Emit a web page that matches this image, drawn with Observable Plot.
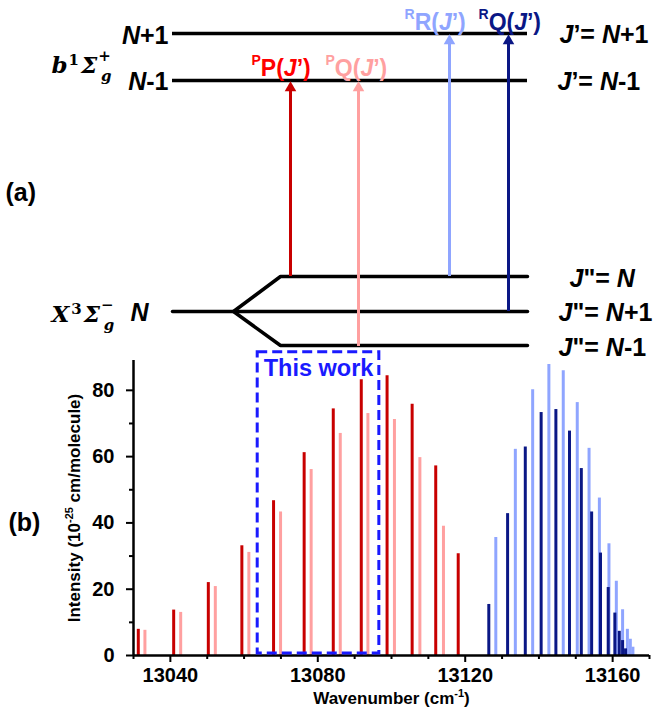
<!DOCTYPE html>
<html><head><meta charset="utf-8">
<script src="https://cdn.jsdelivr.net/npm/d3@7"></script>
<script src="https://cdn.jsdelivr.net/npm/@observablehq/plot@0.6"></script>
<style>
html,body{margin:0;padding:0;background:#fff;}
#wrap{position:relative;width:659px;height:713px;overflow:hidden;}
#wrap svg{position:absolute;left:0;}
</style></head><body><div id="wrap"></div>
<script>
// ---------- Spectrum data (wavenumber cm^-1, intensity 1e-25 cm/molecule) ----------
const ppWn  = [13031.3, 13040.9, 13050.3, 13059.4, 13068.0, 13076.3, 13084.2, 13091.8, 13098.8, 13105.6, 13112.0, 13118.1];
const ppInt = [7.9, 13.7, 22.0, 33.1, 46.7, 61.2, 74.4, 83.2, 84.4, 75.8, 57.2, 30.7];
const pqWn  = [13033.1, 13042.8, 13052.2, 13061.3, 13069.9, 13078.2, 13086.1, 13093.6, 13100.8, 13107.7, 13114.1];
const pqInt = [7.6, 13.0, 20.8, 31.1, 43.3, 56.1, 67.0, 73.0, 71.2, 59.7, 39.0];
const rrWn  = [13128.3, 13133.6, 13138.3, 13142.7, 13146.6, 13150.4, 13153.6, 13156.4, 13159.0, 13161.0, 13162.7, 13164.0, 13164.8, 13165.5];
const rrInt = [35.6, 62.2, 80.2, 87.8, 85.9, 76.3, 62.5, 47.5, 33.7, 22.4, 13.8, 7.9, 4.9, 2.5];
const rqWn  = [13126.4, 13131.5, 13136.3, 13140.6, 13144.6, 13148.3, 13151.5, 13154.3, 13156.7, 13158.8, 13160.6, 13161.8, 13162.7, 13163.5];
const rqInt = [15.4, 42.8, 62.9, 73.3, 74.2, 67.7, 56.4, 43.3, 30.9, 20.5, 12.8, 7.3, 4.5, 2.0];

const xDomain = [13030, 13170];
const yDomain = [0, 89];
const xMajorTicks = [13040, 13080, 13120, 13160];
const xMinorTicks = [13030, 13050, 13060, 13070, 13090, 13100, 13110, 13130, 13140, 13150, 13170];
const yMajorTicks = [0, 20, 40, 60, 80];
const yMinorTicks = [10, 30, 50, 70];
const thisWorkRange = [13063.7, 13096.7];
const thisWorkTop = 90.9;

const colPP = "#c80000", colPPlabel = "#ff0000", colPQ = "#ffa0a0", colRR = "#8fa5ff", colRQ = "#0a1785";
const blueBox = "#1a1aff";
const SANS = "Liberation Sans, Arial, sans-serif";
const SERIF = "DejaVu Serif, serif";
const NB = "\u00A0";

// ---------- rich text helper ----------
const RICH = new Map();
function rich(key, size, segs) { RICH.set(key, {size, segs}); return key; }
function applyRich(svg) {
  const ns = "http://www.w3.org/2000/svg";
  svg.querySelectorAll("text").forEach(el => {
    const spec = RICH.get(el.textContent);
    if (!spec) return;
    while (el.firstChild) el.removeChild(el.firstChild);
    let cur = 0;
    for (const s of spec.segs) {
      const ts = document.createElementNS(ns, "tspan");
      const rise = s.rise || 0;
      const dy = cur - rise;
      if (dy) ts.setAttribute("dy", dy);
      cur = rise;
      if (s.dx) ts.setAttribute("dx", s.dx);
      ts.setAttribute("font-size", s.size || spec.size);
      if (s.i) ts.setAttribute("font-style", "italic");
      ts.textContent = s.t;
      el.appendChild(ts);
    }
  });
}

// ---------- Energy-level diagram (panel a) ----------
const levelX = [172, 527];
const upperLevels = [{name: "N+1", y: 33}, {name: "N-1", y: 80}];
const lowerPaths = [
  {id: "mid", x: 172, y: 311}, {id: "mid", x: 527, y: 311},
  {id: "fork", x: 527, y: 276}, {id: "fork", x: 280, y: 276}, {id: "fork", x: 233, y: 311},
  {id: "fork", x: 280, y: 345}, {id: "fork", x: 527, y: 345}
];
const transitions = [
  {key: rich("PP(J’)", 23, [{t: "P", size: 14, rise: 11}, {t: "P("}, {t: "J", i: 1}, {t: "’)"}]), x: 290, from: 276, to: 80, color: colPP, labelColor: colPPlabel, lx: 251, ly: 75},
  {key: rich("PQ(J’)", 23, [{t: "P", size: 14, rise: 11}, {t: "Q("}, {t: "J", i: 1}, {t: "’)"}]), x: 358, from: 346, to: 80, color: colPQ, labelColor: colPQ, lx: 325, ly: 75},
  {key: rich("RR(J’)", 23, [{t: "R", size: 14, rise: 11}, {t: "R("}, {t: "J", i: 1}, {t: "’)"}]), x: 449, from: 276, to: 33, color: colRR, labelColor: colRR, lx: 404, ly: 29},
  {key: rich("RQ(J’)", 23, [{t: "R", size: 14, rise: 11}, {t: "Q("}, {t: "J", i: 1}, {t: "’)"}]), x: 508, from: 311, to: 33, color: colRQ, labelColor: colRQ, lx: 478, ly: 29}
];
const upperLevelLabels = [
  {key: rich("N+1", 25, [{t: "N", i: 1}, {t: "+1"}]), x: 168, y: 43},
  {key: rich("N-1", 25, [{t: "N", i: 1}, {t: "-1"}]), x: 168, y: 89}
];
const groundLabel = [{key: rich("N", 25, [{t: "N", i: 1}]), x: 130, y: 320}];
const rightLabels = [
  {key: rich("J’= N+1", 25, [{t: "J", i: 1}, {t: "’=" + NB}, {t: "N", i: 1}, {t: "+1"}]), x: 559, y: 42},
  {key: rich("J’= N-1", 25, [{t: "J", i: 1}, {t: "’=" + NB}, {t: "N", i: 1}, {t: "-1"}]), x: 557, y: 89},
  {key: rich("J\"= N", 25, [{t: "J", i: 1}, {t: "\"=" + NB}, {t: "N", i: 1}]), x: 569, y: 286},
  {key: rich("J\"= N+1", 25, [{t: "J", i: 1}, {t: "\"=" + NB}, {t: "N", i: 1}, {t: "+1"}]), x: 558, y: 320},
  {key: rich("J\"= N-1", 25, [{t: "J", i: 1}, {t: "\"=" + NB}, {t: "N", i: 1}, {t: "-1"}]), x: 558, y: 355}
];
const stateLabels = [
  {key: rich("b1Σg+", 23, [{t: "b", i: 1}, {t: "1", size: 15, rise: 8, dx: 1}, {t: "Σ", i: 1, dx: 2}, {t: "+", size: 15, rise: 12, dx: 1}, {t: "g", i: 1, size: 15, rise: -8, dx: -10}]), x: 51, y: 72},
  {key: rich("X3Σg-", 23, [{t: "X", i: 1}, {t: "3", size: 15, rise: 8, dx: 2}, {t: "Σ", i: 1, dx: 2}, {t: "−", size: 15, rise: 12, dx: 1}, {t: "g", i: 1, size: 15, rise: -8, dx: -10}]), x: 51, y: 321}
];
const panelLabels = [{text: "(a)", x: 5, y: 200}, {text: "(b)", x: 8, y: 530}];

const baseStyle = {fontFamily: SANS, background: "transparent", overflow: "visible"};

const diagram = Plot.plot({
  width: 659, height: 713, margin: 0,
  x: {domain: [0, 659], range: [0, 659], axis: null},
  y: {domain: [0, 713], range: [0, 713], axis: null},
  color: {type: "identity"},
  style: baseStyle,
  marks: [
    Plot.ruleY(upperLevels, {y: "y", x1: levelX[0], x2: levelX[1], stroke: "#000", strokeWidth: 3.5}),
    Plot.line(lowerPaths, {x: "x", y: "y", z: "id", stroke: "#000", strokeWidth: 3.5, strokeLinejoin: "miter"}),
    Plot.ruleX(transitions, {x: "x", y1: "from", y2: d => d.to + 8, stroke: "color", strokeWidth: 3}),
    Plot.dot(transitions, {x: "x", y: d => d.to + 7.5, symbol: "triangle", r: 4.3, fill: "color", stroke: null}),
    Plot.text(transitions, {x: "lx", y: "ly", text: "key", fill: "labelColor", textAnchor: "start", lineAnchor: "bottom", fontSize: 23, fontWeight: "bold"}),
    Plot.text(upperLevelLabels, {x: "x", y: "y", text: "key", textAnchor: "end", lineAnchor: "bottom", fontSize: 25, fontWeight: "bold"}),
    Plot.text(groundLabel, {x: "x", y: "y", text: "key", textAnchor: "start", lineAnchor: "bottom", fontSize: 25, fontWeight: "bold"}),
    Plot.text(rightLabels, {x: "x", y: "y", text: "key", textAnchor: "start", lineAnchor: "bottom", fontSize: 25, fontWeight: "bold"}),
    Plot.text(stateLabels, {x: "x", y: "y", text: "key", textAnchor: "start", lineAnchor: "bottom", fontSize: 23, fontWeight: "bold", fontFamily: SERIF}),
    Plot.text(panelLabels, {x: "x", y: "y", text: "text", textAnchor: "start", lineAnchor: "bottom", fontSize: 25, fontWeight: "bold"})
  ]
});
applyRich(diagram);
diagram.style.top = "0px";

// ---------- Spectrum (panel b) ----------
const mk = (wn, v) => wn.map((w, i) => ({wn: w, v: v[i]}));
const ppData = mk(ppWn, ppInt), pqData = mk(pqWn, pqInt), rrData = mk(rrWn, rrInt), rqData = mk(rqWn, rqInt);
const box = [{x1: thisWorkRange[0], x2: thisWorkRange[1], y1: yDomain[0], y2: thisWorkTop, label: "This work"}];
const xLabel = rich("Wavenumber (cm-1)", 17, [{t: "Wavenumber (cm"}, {t: "-1", size: 11, rise: 7}, {t: ")"}]);
const yLabel = rich("Intensity (10-25 cm/molecule)", 17, [{t: "Intensity (10"}, {t: "-25", size: 11, rise: 7}, {t: NB + "cm/molecule)"}]);

const spectrum = Plot.plot({
  width: 659, height: 373, marginTop: 20, marginBottom: 58, marginLeft: 133, marginRight: 10,
  x: {domain: xDomain},
  y: {domain: yDomain},
  style: baseStyle,
  marks: [
    Plot.ruleX(ppData, {x: "wn", y1: 0, y2: "v", stroke: colPP, strokeWidth: 3}),
    Plot.ruleX(pqData, {x: "wn", y1: 0, y2: "v", stroke: colPQ, strokeWidth: 3}),
    Plot.ruleX(rrData, {x: "wn", y1: 0, y2: "v", stroke: colRR, strokeWidth: 3}),
    Plot.ruleX(rqData, {x: "wn", y1: 0, y2: "v", stroke: colRQ, strokeWidth: 3}),
    Plot.ruleY([yDomain[0]], {stroke: "#000", strokeWidth: 2.5}),
    Plot.ruleX([xDomain[0]], {stroke: "#000", strokeWidth: 2.5}),
    Plot.rect(box, {x1: "x1", x2: "x2", y1: "y1", y2: "y2", dy: -2, fill: "none", stroke: blueBox, strokeWidth: 3, strokeDasharray: "10,5"}),
    Plot.text(box, {x: "x1", y: "y2", text: "label", dx: 6, dy: 5, textAnchor: "start", lineAnchor: "top", fill: blueBox, fontSize: 23.5, fontWeight: "bold"}),
    Plot.axisX({ticks: xMajorTicks, tickFormat: d3.format("d"), tickSize: 7, tickPadding: 5, strokeWidth: 2, fontSize: 20, fontWeight: "bold", label: null}),
    Plot.axisX({ticks: xMinorTicks, tickSize: 4, tickFormat: () => "", strokeWidth: 2, label: null}),
    Plot.axisY({ticks: yMajorTicks, tickFormat: d3.format("d"), tickSize: 7, tickPadding: 12, strokeWidth: 2, fontSize: 20, fontWeight: "bold", label: null}),
    Plot.axisY({ticks: yMinorTicks, tickSize: 4, tickFormat: () => "", strokeWidth: 2, label: null}),
    Plot.text([xLabel], {frameAnchor: "bottom", text: d => d, dy: 48, textAnchor: "middle", lineAnchor: "bottom", fontSize: 17, fontWeight: "bold"}),
    Plot.text([yLabel], {frameAnchor: "left", text: d => d, dx: -54, rotate: -90, textAnchor: "middle", lineAnchor: "bottom", fontSize: 17, fontWeight: "bold"})
  ]
});
applyRich(spectrum);
spectrum.style.top = "340px";

const wrap = document.getElementById("wrap");
wrap.appendChild(diagram);
wrap.appendChild(spectrum);
</script></body></html>
